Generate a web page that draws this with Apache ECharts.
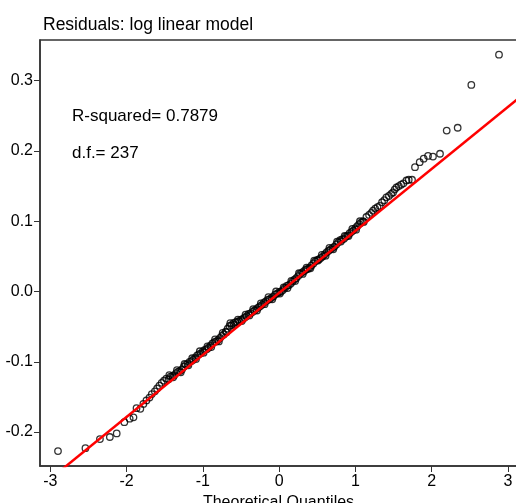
<!DOCTYPE html>
<html>
<head>
<meta charset="utf-8">
<script src="https://cdn.jsdelivr.net/npm/echarts@6/dist/echarts.min.js"></script>
<style>
  html, body { margin: 0; padding: 0; background: #fff; }
  #chart { width: 516px; height: 503px; }
</style>
</head>
<body>
<div id="chart"></div>
<script>
// theoretical quantile / residual pairs
const lowerTail = [
  [-2.90, -0.227], [-2.54, -0.223], [-2.35, -0.210], [-2.22, -0.207], [-2.13, -0.202],
  [-2.03, -0.186], [-1.96, -0.181], [-1.91, -0.179], [-1.87, -0.166], [-1.82, -0.167],
  [-1.78, -0.160], [-1.74, -0.155], [-1.70, -0.151], [-1.67, -0.146], [-1.63, -0.142],
  [-1.60, -0.138], [-1.57, -0.134], [-1.54, -0.130], [-1.51, -0.127], [-1.48, -0.124]
]
const band = [
  [-1.45, -0.125], [-1.425, -0.121], [-1.40, -0.120], [-1.375, -0.119], [-1.35, -0.116],
  [-1.325, -0.114], [-1.30, -0.113], [-1.275, -0.111], [-1.25, -0.107], [-1.225, -0.104],
  [-1.20, -0.103], [-1.175, -0.100], [-1.15, -0.099], [-1.125, -0.097], [-1.10, -0.094],
  [-1.075, -0.091], [-1.05, -0.089], [-1.025, -0.088], [-1.00, -0.085], [-0.975, -0.083],
  [-0.95, -0.082], [-0.925, -0.080], [-0.90, -0.077], [-0.875, -0.074], [-0.85, -0.072],
  [-0.825, -0.071], [-0.80, -0.069], [-0.775, -0.066], [-0.75, -0.063], [-0.725, -0.061],
  [-0.70, -0.057], [-0.675, -0.053], [-0.65, -0.049], [-0.625, -0.048], [-0.60, -0.045],
  [-0.575, -0.044], [-0.55, -0.043], [-0.525, -0.042], [-0.50, -0.040], [-0.475, -0.039],
  [-0.45, -0.037], [-0.425, -0.035], [-0.40, -0.032], [-0.375, -0.031], [-0.35, -0.029],
  [-0.325, -0.027], [-0.30, -0.025], [-0.275, -0.023], [-0.25, -0.021], [-0.225, -0.019],
  [-0.20, -0.016], [-0.175, -0.014], [-0.15, -0.012], [-0.125, -0.011], [-0.10, -0.009],
  [-0.075, -0.007], [-0.05, -0.004], [-0.025, -0.003], [0.00, -0.001], [0.025, 0.000],
  [0.05, 0.002], [0.075, 0.005], [0.10, 0.008], [0.125, 0.009], [0.15, 0.011],
  [0.175, 0.014], [0.20, 0.017], [0.225, 0.019], [0.25, 0.022], [0.275, 0.025],
  [0.30, 0.027], [0.325, 0.029], [0.35, 0.031], [0.375, 0.032], [0.40, 0.034],
  [0.425, 0.037], [0.45, 0.040], [0.475, 0.043], [0.50, 0.045], [0.525, 0.046],
  [0.55, 0.048], [0.575, 0.050], [0.60, 0.053], [0.625, 0.056], [0.65, 0.058],
  [0.675, 0.060], [0.70, 0.062], [0.725, 0.064], [0.75, 0.067], [0.775, 0.070],
  [0.80, 0.073], [0.825, 0.074], [0.85, 0.075], [0.875, 0.078], [0.90, 0.080],
  [0.925, 0.083], [0.95, 0.085], [0.975, 0.087], [1.00, 0.090], [1.025, 0.093],
  [1.05, 0.096], [1.075, 0.098], [1.10, 0.100]
]
// points in the dense band that sit just off its centre
const bandExtra = [
  [-1.44, -0.119], [-1.39, -0.122], [-1.34, -0.112], [-1.29, -0.115], [-1.24, -0.103],
  [-1.19, -0.105], [-1.14, -0.095], [-1.09, -0.096], [-1.04, -0.085], [-0.99, -0.087],
  [-0.94, -0.078], [-0.89, -0.079], [-0.84, -0.068], [-0.79, -0.071], [-0.74, -0.059],
  [-0.69, -0.058], [-0.64, -0.045], [-0.59, -0.047], [-0.54, -0.040], [-0.49, -0.042],
  [-0.44, -0.033], [-0.39, -0.034], [-0.34, -0.025], [-0.29, -0.027], [-0.24, -0.017],
  [-0.19, -0.018], [-0.14, -0.008], [-0.09, -0.011], [-0.04, 0.000], [0.01, -0.003],
  [0.06, 0.006], [0.11, 0.005], [0.16, 0.015], [0.21, 0.015], [0.26, 0.026],
  [0.31, 0.025], [0.36, 0.034], [0.41, 0.033], [0.46, 0.044], [0.51, 0.044],
  [0.56, 0.052], [0.61, 0.051], [0.66, 0.062], [0.71, 0.060], [0.76, 0.071],
  [0.81, 0.071], [0.86, 0.079], [0.91, 0.079], [0.96, 0.089], [1.01, 0.088],
  [1.06, 0.100], [1.11, 0.099]
]
const upperTail = [
  [1.145, 0.106], [1.18, 0.109], [1.21, 0.112], [1.232, 0.115], [1.26, 0.118],
  [1.29, 0.120], [1.32, 0.122], [1.35, 0.127], [1.38, 0.130], [1.407, 0.134],
  [1.44, 0.136], [1.47, 0.139], [1.494, 0.141], [1.515, 0.145], [1.539, 0.148],
  [1.57, 0.150], [1.60, 0.152], [1.63, 0.154], [1.67, 0.158], [1.70, 0.159],
  [1.743, 0.159], [1.782, 0.177], [1.844, 0.184], [1.896, 0.189], [1.953, 0.193],
  [2.018, 0.192], [2.11, 0.196], [2.198, 0.229], [2.342, 0.233], [2.521, 0.294],
  [2.884, 0.337]
]
// qqline
const lineIntercept = -0.002
const lineSlope = 0.0882

const xTicks = [-3, -2, -1, 0, 1, 2, 3]
const yTicks = [-0.2, -0.1, 0.0, 0.1, 0.2, 0.3]
const xMin = -3.136, xMax = 3.12
const yMin = -0.2483, yMax = 0.3579

const chart = echarts.init(document.getElementById('chart'))
const font = 'Liberation Sans, Arial, sans-serif'
const points = lowerTail.concat(band, bandExtra, upperTail)
const lineData = [xMin - 0.2, xMax + 0.2].map(x => [x, lineIntercept + lineSlope * x])

chart.setOption({
  animation: false,
  title: {
    text: 'Residuals: log linear model',
    left: 38,
    top: 11,
    textStyle: { fontFamily: font, fontSize: 17.5, fontWeight: 'normal', color: '#000' }
  },
  grid: {
    left: 40,
    top: 40,
    width: 477,
    height: 426,
    outerBoundsMode: 'none',
    containLabel: false,
    show: true,
    borderColor: '#333',
    borderWidth: 1.5
  },
  xAxis: {
    type: 'value',
    min: xMin,
    max: xMax,
    name: 'Theoretical Quantiles',
    nameLocation: 'middle',
    nameGap: 21,
    nameTextStyle: { fontFamily: font, fontSize: 16, color: '#000' },
    axisLine: { show: true, onZero: false, lineStyle: { color: '#333', width: 1.5 } },
    axisTick: { show: true, length: 6, customValues: xTicks, lineStyle: { color: '#333' } },
    axisLabel: {
      customValues: xTicks,
      margin: 8,
      fontFamily: font,
      fontSize: 16,
      color: '#000',
      formatter: v => String(v)
    },
    splitLine: { show: false }
  },
  yAxis: {
    type: 'value',
    min: yMin,
    max: yMax,
    axisLine: { show: true, onZero: false, lineStyle: { color: '#333', width: 1.5 } },
    axisTick: { show: true, length: 6, customValues: yTicks, lineStyle: { color: '#333' } },
    axisLabel: {
      customValues: yTicks,
      margin: 7,
      fontFamily: font,
      fontSize: 16,
      color: '#000',
      formatter: v => v.toFixed(1)
    },
    splitLine: { show: false }
  },
  graphic: [
    {
      type: 'text', left: 72, top: 108,
      style: { text: 'R-squared= 0.7879', font: '17px ' + font, fill: '#000' }
    },
    {
      type: 'text', left: 72, top: 145,
      style: { text: 'd.f.= 237', font: '17px ' + font, fill: '#000' }
    }
  ],
  series: [
    {
      type: 'scatter',
      data: points,
      symbol: 'circle',
      symbolSize: 6.5,
      itemStyle: { color: 'rgba(0,0,0,0)', borderColor: '#000', borderWidth: 1.3 },
      z: 2
    },
    {
      type: 'line',
      data: lineData,
      showSymbol: false,
      clip: true,
      lineStyle: { color: '#ff0000', width: 2.5 },
      z: 3
    }
  ]
})
</script>
</body>
</html>
